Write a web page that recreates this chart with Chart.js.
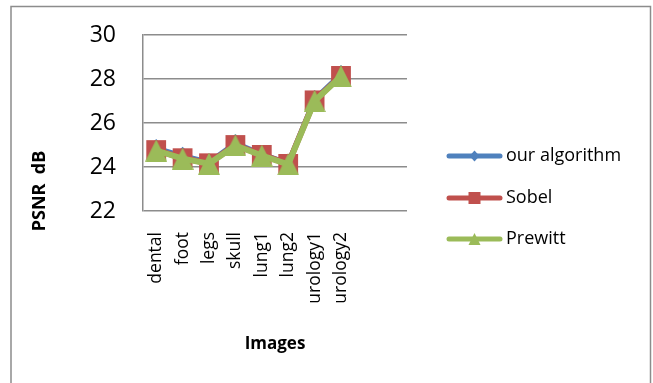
<!DOCTYPE html>
<html>
<head>
<meta charset="utf-8">
<title>PSNR by image</title>
<script src="https://cdn.jsdelivr.net/npm/chart.js@4.4.1/dist/chart.umd.min.js"></script>
<style>
  html, body { margin: 0; padding: 0; background: #ffffff; }
  #wrap { width: 653px; height: 383px; position: relative; }
</style>
</head>
<body>
<div id="wrap"><canvas id="chart" width="653" height="383"></canvas></div>
<script>
// Test images (two trailing empty slots keep the category spacing)
const categories = ['dental', 'foot', 'legs', 'skull', 'lung1', 'lung2', 'urology1', 'urology2', '', ''];

// PSNR in dB for each edge detector
const ourAlgorithm = [24.86, 24.51, 24.22, 25.09, 24.59, 24.18, 27.09, 28.23, null, null];
const sobel        = [24.77, 24.40, 24.17, 25.00, 24.55, 24.14, 27.03, 28.14, null, null];
const prewitt      = [24.75, 24.38, 24.15, 24.98, 24.52, 24.12, 27.00, 28.12, null, null];

// Y-axis range and step
const yMin = 22, yMax = 30, yStep = 2;

const seriesNames = ['our algorithm', 'Sobel', 'Prewitt'];
const BLUE = '#4F81BD', RED = '#C0504D', GREEN = '#9BBB59';
const FONT = '"Open Sans", "Liberation Sans", sans-serif';

// Triangle marker whose bounding box is centred on the data point
function makeTriangle(size, color) {
  const c = document.createElement('canvas');
  c.width = size; c.height = size;
  const g = c.getContext('2d');
  g.fillStyle = color;
  g.beginPath();
  g.moveTo(size / 2, 0);
  g.lineTo(size, size);
  g.lineTo(0, size);
  g.closePath();
  g.fill();
  return c;
}
const triChart = makeTriangle(22, GREEN);

// Frame, axis titles and legend drawn on top of the chart
const decorations = {
  id: 'decorations',
  afterDraw(chart) {
    const ctx = chart.ctx;
    ctx.save();
    // outer frame
    ctx.strokeStyle = '#8c8c8c';
    ctx.lineWidth = 1.5;
    ctx.strokeRect(11, 6.5, 639.5, 400);

    // axis titles
    ctx.fillStyle = '#000';
    ctx.font = 'bold 17px ' + FONT;
    ctx.textAlign = 'center';
    ctx.textBaseline = 'middle';
    ctx.fillText('Images', 275, 344);
    ctx.font = 'bold 18px ' + FONT;
    ctx.save();
    ctx.translate(40, 191);
    ctx.rotate(-Math.PI / 2);
    ctx.fillText('PSNR  dB', 0, 0);
    ctx.restore();

    // legend
    const rows = [156, 198, 239];
    chart.data.datasets.forEach((ds, i) => {
      const y = rows[i];
      ctx.strokeStyle = ds.borderColor;
      ctx.lineWidth = 5;
      ctx.lineCap = 'round';
      ctx.beginPath();
      ctx.moveTo(449, y);
      ctx.lineTo(500, y);
      ctx.stroke();
      ctx.fillStyle = ds.borderColor;
      const cx = 474.5;
      ctx.beginPath();
      if (i === 0) {
        ctx.moveTo(cx, y - 5.5); ctx.lineTo(cx + 5, y); ctx.lineTo(cx, y + 5.5); ctx.lineTo(cx - 5, y);
      } else if (i === 1) {
        ctx.rect(cx - 6, y - 6, 12, 12);
      } else {
        ctx.moveTo(cx, y - 6); ctx.lineTo(cx + 6, y + 6); ctx.lineTo(cx - 6, y + 6);
      }
      ctx.closePath();
      ctx.fill();
      ctx.fillStyle = '#000';
      ctx.font = '18px ' + FONT;
      ctx.textAlign = 'left';
      ctx.textBaseline = 'middle';
      ctx.fillText(ds.label, 506, y);
    });
    ctx.restore();
  }
};

new Chart(document.getElementById('chart'), {
  type: 'line',
  data: {
    labels: categories,
    datasets: [
      {
        label: seriesNames[0], data: ourAlgorithm, order: 3,
        borderColor: BLUE, backgroundColor: BLUE, borderWidth: 5,
        pointStyle: 'rectRot', pointRadius: 9, pointBorderWidth: 0
      },
      {
        label: seriesNames[1], data: sobel, order: 2,
        borderColor: RED, backgroundColor: RED, borderWidth: 6,
        pointStyle: 'rect', pointRadius: 14, pointBorderWidth: 0
      },
      {
        label: seriesNames[2], data: prewitt, order: 1,
        borderColor: GREEN, backgroundColor: GREEN, borderWidth: 6,
        pointStyle: triChart, pointRadius: 11, pointBorderWidth: 0
      }
    ]
  },
  options: {
    responsive: false,
    animation: false,
    devicePixelRatio: 1,
    layout: { padding: { left: 0, top: 35, right: 246, bottom: 0 } },
    elements: {
      line: { tension: 0, borderJoinStyle: 'round', borderCapStyle: 'round' }
    },
    plugins: {
      legend: { display: false },
      tooltip: { enabled: false }
    },
    scales: {
      x: {
        offset: true,
        grid: { display: false, drawTicks: false },
        border: { display: false },
        ticks: {
          autoSkip: false, maxRotation: 90, minRotation: 90, padding: 21,
          color: '#000', font: { family: FONT, size: 17.5 }
        },
        afterFit(scale) { scale.height = 172; }
      },
      y: {
        min: yMin, max: yMax,
        grid: {
          color: '#8c8c8c', lineWidth: 1.5,
          drawTicks: true, tickLength: 27, tickColor: 'rgba(0,0,0,0)'
        },
        border: { display: true, color: '#8c8c8c', width: 1.5 },
        ticks: {
          stepSize: yStep, padding: 0,
          color: '#000', font: { family: FONT, size: 23 }
        },
        afterFit(scale) { scale.width = 143; }
      }
    }
  },
  plugins: [decorations]
});
</script>
</body>
</html>
